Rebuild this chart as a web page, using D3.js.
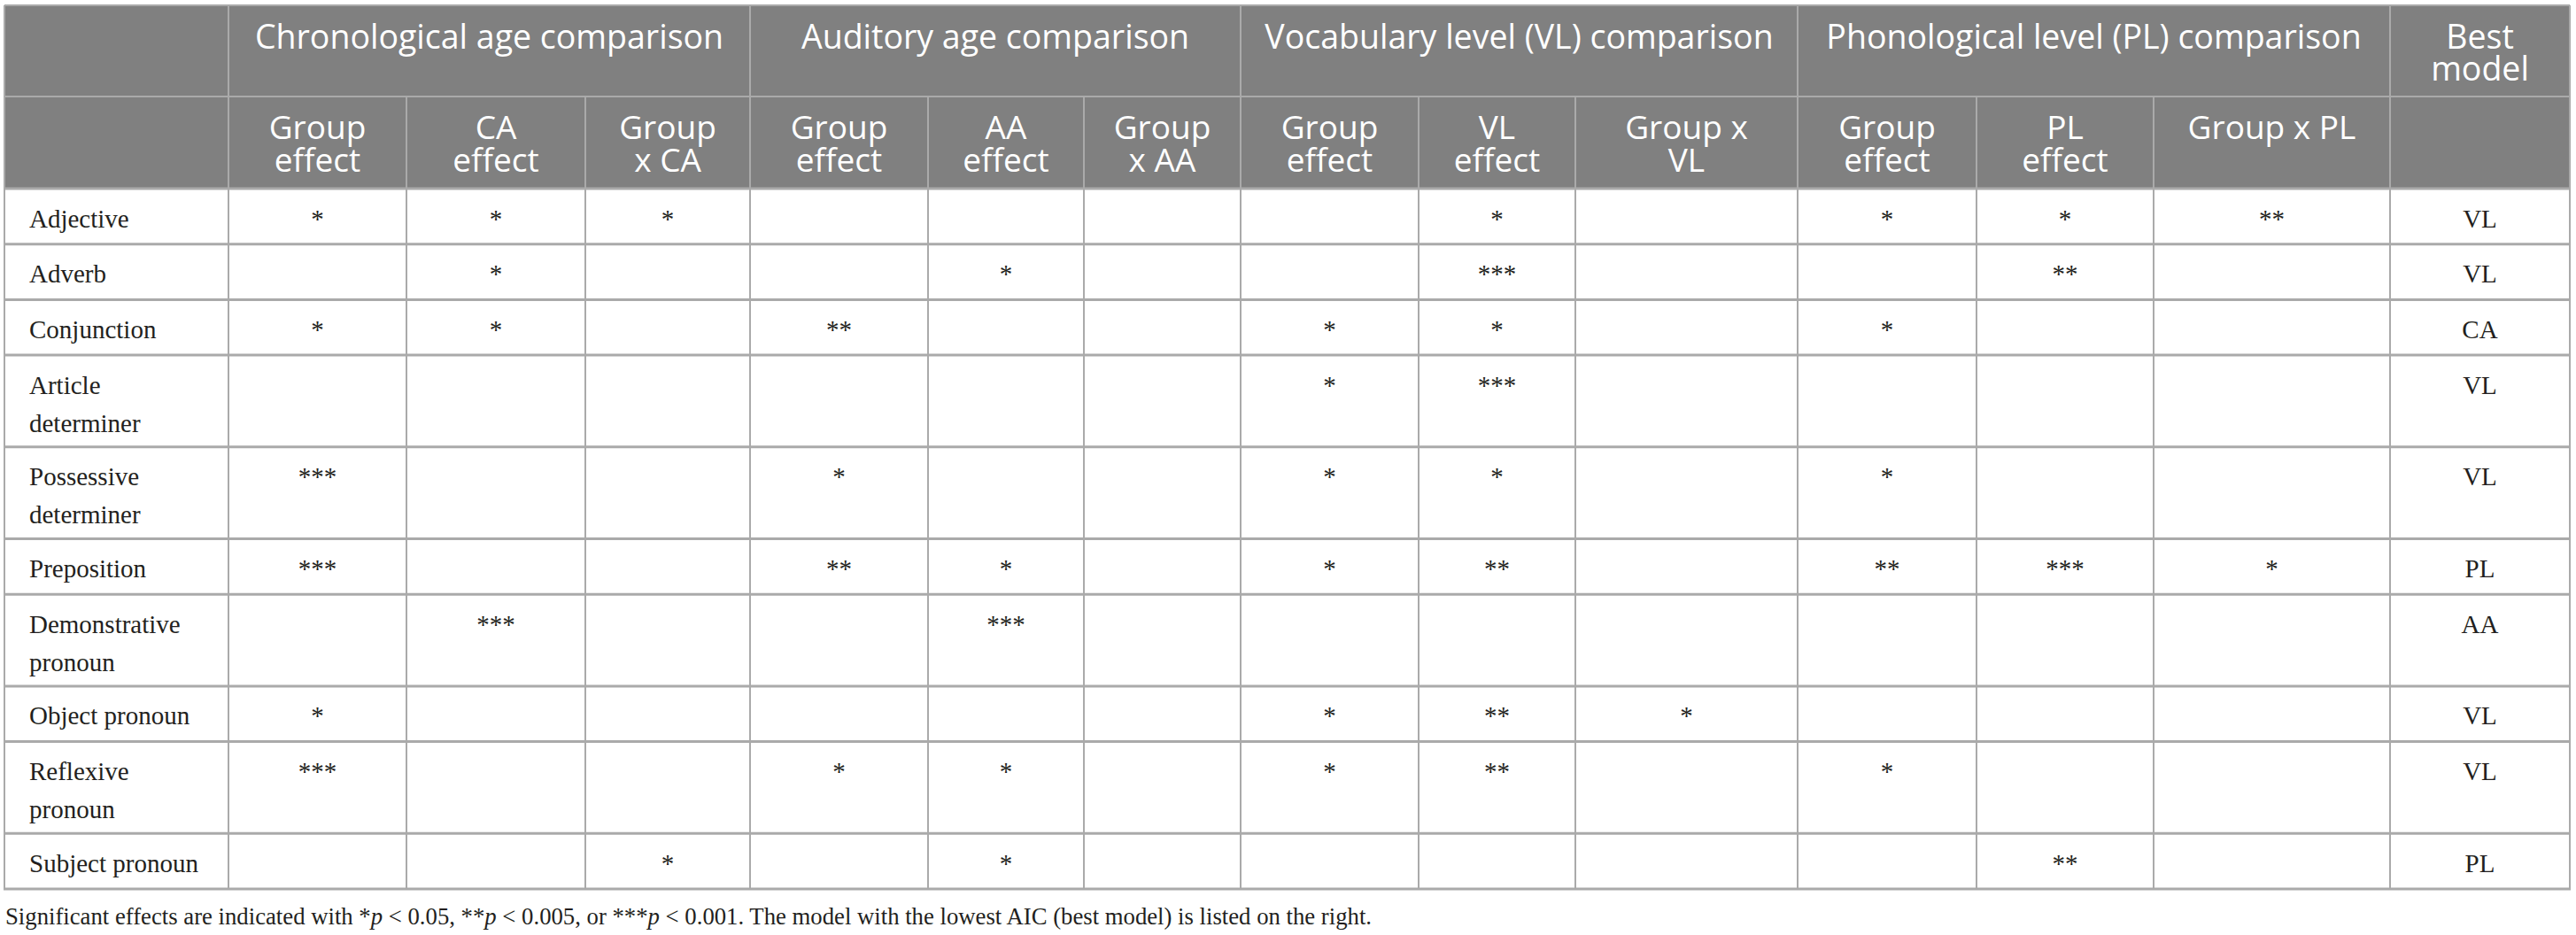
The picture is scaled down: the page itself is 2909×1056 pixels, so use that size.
<!DOCTYPE html>
<html>
<head>
<meta charset="utf-8">
<script src="https://cdn.jsdelivr.net/npm/d3@7"></script>
<style>
  body { margin: 0; background: #fff; }
</style>
</head>
<body>
<div id="chart"></div>
<script>
// table content
const categories = [
  ["Adjective"], ["Adverb"], ["Conjunction"], ["Article", "determiner"],
  ["Possessive", "determiner"], ["Preposition"], ["Demonstrative", "pronoun"],
  ["Object pronoun"], ["Reflexive", "pronoun"], ["Subject pronoun"]
];

const comparisons = [
  "Chronological age comparison",
  "Auditory age comparison",
  "Vocabulary level (VL) comparison",
  "Phonological level (PL) comparison"
];

const subHeaders = [
  ["Group", "effect"], ["CA", "effect"], ["Group", "x CA"],
  ["Group", "effect"], ["AA", "effect"], ["Group", "x AA"],
  ["Group", "effect"], ["VL", "effect"], ["Group x", "VL"],
  ["Group", "effect"], ["PL", "effect"], ["Group x PL"]
];

const groupCA  = ["*", "", "*", "", "***", "***", "", "*", "***", ""];
const effCA    = ["*", "*", "*", "", "", "", "***", "", "", ""];
const groupXCA = ["*", "", "", "", "", "", "", "", "", "*"];
const groupAA  = ["", "", "**", "", "*", "**", "", "", "*", ""];
const effAA    = ["", "*", "", "", "", "*", "***", "", "*", "*"];
const groupXAA = ["", "", "", "", "", "", "", "", "", ""];
const groupVL  = ["", "", "*", "*", "*", "*", "", "*", "*", ""];
const effVL    = ["*", "***", "*", "***", "*", "**", "", "**", "**", ""];
const groupXVL = ["", "", "", "", "", "", "", "*", "", ""];
const groupPL  = ["*", "", "*", "", "*", "**", "", "", "*", ""];
const effPL    = ["*", "**", "", "", "", "***", "", "", "", "**"];
const groupXPL = ["**", "", "", "", "", "*", "", "", "", ""];
const bestModel = ["VL", "VL", "CA", "VL", "VL", "PL", "AA", "VL", "VL", "PL"];

const effectCols = [groupCA, effCA, groupXCA, groupAA, effAA, groupXAA,
                    groupVL, effVL, groupXVL, groupPL, effPL, groupXPL, bestModel];

// layout
const width = 2909;
const height = 1056;
const colEdges = [5, 258, 459, 661, 847, 1048, 1224, 1401, 1602, 1779, 2030, 2232, 2432, 2699, 2902];
const headTop = 6, headMid = 109, headBottom = 213;
const lineH = 41;
const singleRow = 62.7;

const colIdx = d3.range(colEdges.length - 1);
const x = d3.scaleOrdinal().domain(colIdx).range(colEdges.slice(0, -1));
const w = i => colEdges[i + 1] - colEdges[i];
const cx = i => x(i) + w(i) / 2;

// row tops
const rowTops = [];
let acc = headBottom;
categories.forEach(c => { rowTops.push(acc); acc += singleRow + lineH * (c.length - 1); });
const tableBottom = acc;
const y = d3.scaleOrdinal().domain(d3.range(categories.length)).range(rowTops);

const headFont = "'Open Sans', sans-serif";
const bodyFont = "'Liberation Serif', 'Times New Roman', serif";
const headGray = "#808080";
const lineGray = "#aaaaaa";

const svg = d3.select("#chart")
  .append("svg")
  .attr("width", width)
  .attr("height", height)
  .attr("viewBox", [0, 0, width, height]);

// header background
svg.append("rect")
  .attr("x", colEdges[0]).attr("y", headTop)
  .attr("width", colEdges[colEdges.length - 1] - colEdges[0])
  .attr("height", headBottom - headTop)
  .attr("fill", headGray);

// header grid lines
const hLines = svg.append("g").attr("stroke", lineGray).attr("stroke-width", 2);
hLines.append("line")
  .attr("x1", colEdges[0]).attr("x2", colEdges[colEdges.length - 1])
  .attr("y1", headTop).attr("y2", headTop);
hLines.append("line")
  .attr("x1", colEdges[0]).attr("x2", colEdges[colEdges.length - 1])
  .attr("y1", headMid).attr("y2", headMid);

// group edges in top header row: label col, 4 groups of 3, best model
const groupStarts = [0, 1, 4, 7, 10, 13, 14];
hLines.selectAll(".gv")
  .data(groupStarts)
  .join("line")
  .attr("x1", d => colEdges[d]).attr("x2", d => colEdges[d])
  .attr("y1", headTop).attr("y2", headMid);
hLines.selectAll(".sv")
  .data(d3.range(colEdges.length))
  .join("line")
  .attr("x1", d => colEdges[d]).attr("x2", d => colEdges[d])
  .attr("y1", headMid).attr("y2", headBottom);

// comparison headings
svg.append("g")
  .selectAll("text")
  .data(comparisons)
  .join("text")
  .attr("x", (d, i) => (colEdges[1 + i * 3] + colEdges[4 + i * 3]) / 2)
  .attr("y", 54.5)
  .attr("text-anchor", "middle")
  .attr("font-family", headFont)
  .attr("font-size", 37.5)
  .attr("fill", "#fff")
  .text(d => d);

// best model heading
svg.append("text")
  .attr("x", cx(13))
  .attr("text-anchor", "middle")
  .attr("font-family", headFont)
  .attr("font-size", 37.5)
  .attr("fill", "#fff")
  .selectAll("tspan")
  .data(["Best", "model"])
  .join("tspan")
  .attr("x", cx(13))
  .attr("y", (d, i) => 54.5 + i * 36.5)
  .text(d => d);

// sub headings
svg.append("g")
  .selectAll("text")
  .data(subHeaders)
  .join("text")
  .attr("text-anchor", "middle")
  .attr("font-family", headFont)
  .attr("font-size", 37)
  .attr("fill", "#fff")
  .each(function(lines, i) {
    d3.select(this).selectAll("tspan")
      .data(lines)
      .join("tspan")
      .attr("x", cx(i + 1))
      .attr("y", (d, j) => 157 + j * 36.5)
      .text(d => d);
  });

// body grid
const body = svg.append("g").attr("stroke", lineGray);
body.selectAll(".v")
  .data(d3.range(colEdges.length))
  .join("line")
  .attr("stroke-width", 2)
  .attr("x1", d => colEdges[d]).attr("x2", d => colEdges[d])
  .attr("y1", headBottom).attr("y2", tableBottom);
body.selectAll(".h")
  .data(rowTops.concat([tableBottom]))
  .join("line")
  .attr("stroke-width", 3)
  .attr("x1", colEdges[0] - 1).attr("x2", colEdges[colEdges.length - 1] + 1)
  .attr("y1", d => d).attr("y2", d => d);

// row labels
svg.append("g")
  .selectAll("text")
  .data(categories)
  .join("text")
  .attr("font-family", bodyFont)
  .attr("font-size", 29)
  .attr("fill", "#231f20")
  .each(function(lines, i) {
    d3.select(this).selectAll("tspan")
      .data(lines)
      .join("tspan")
      .attr("x", x(0) + 28)
      .attr("y", (d, j) => y(i) + 43.5 + j * 43)
      .text(d => d);
  });

// significance cells
const cells = [];
effectCols.forEach((col, c) => col.forEach((v, r) => { if (v) cells.push({ c: c + 1, r, v }); }));

svg.append("g")
  .selectAll("text")
  .data(cells)
  .join("text")
  .attr("x", d => cx(d.c))
  .attr("y", d => y(d.r) + 43.5)
  .attr("text-anchor", "middle")
  .attr("font-family", bodyFont)
  .attr("font-size", 29)
  .attr("fill", "#231f20")
  .text(d => d.v);

// footnote
const note = svg.append("text")
  .attr("x", 6)
  .attr("y", 1044)
  .attr("font-family", bodyFont)
  .attr("font-size", 28)
  .attr("fill", "#231f20");
const noteParts = [
  ["Significant effects are indicated with *", false], ["p", true], [" < 0.05, **", false],
  ["p", true], [" < 0.005, or ***", false], ["p", true],
  [" < 0.001. The model with the lowest AIC (best model) is listed on the right.", false]
];
note.selectAll("tspan")
  .data(noteParts)
  .join("tspan")
  .attr("font-style", d => d[1] ? "italic" : null)
  .text(d => d[0]);
note.attr("textLength", 1543).attr("lengthAdjust", "spacingAndGlyphs");
</script>
</body>
</html>
